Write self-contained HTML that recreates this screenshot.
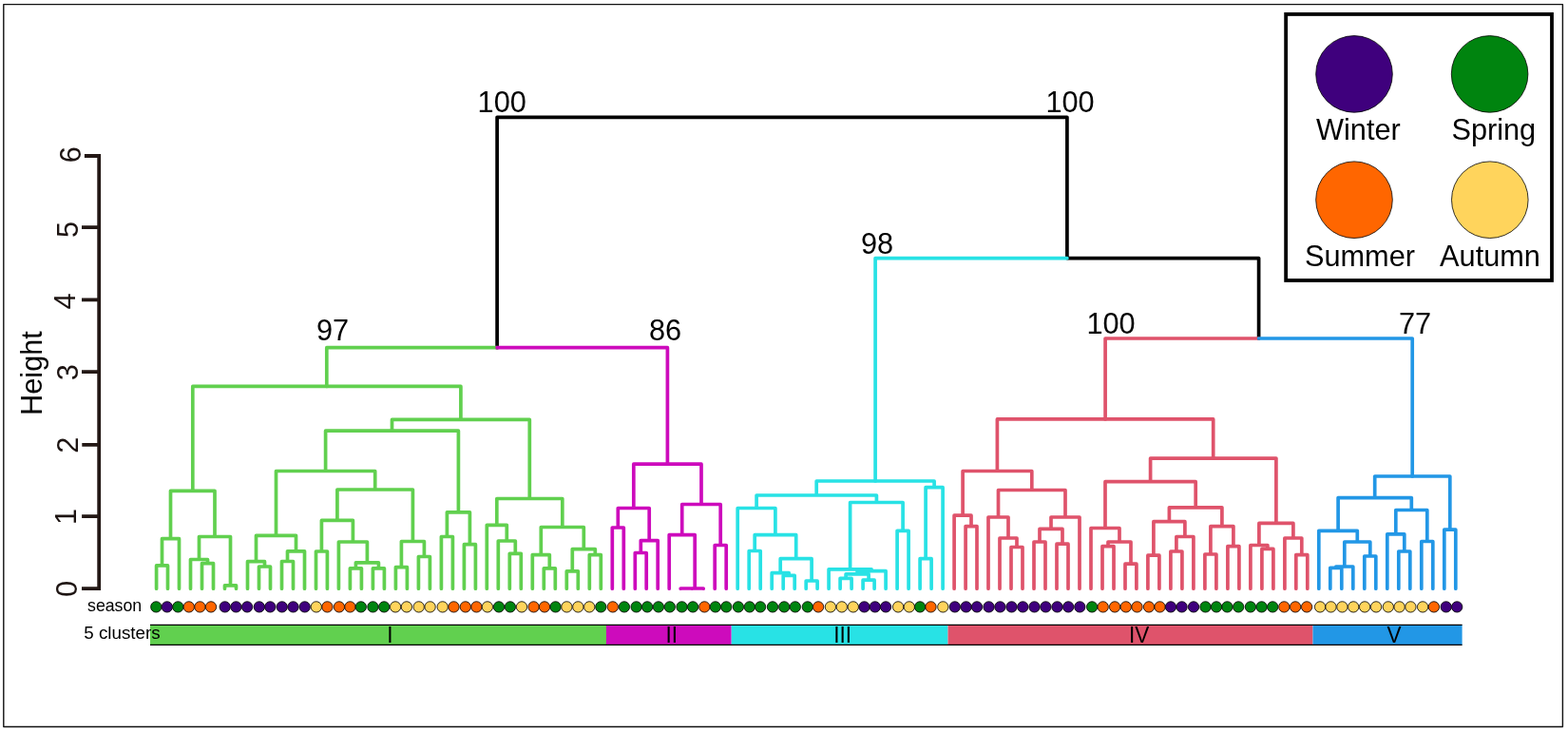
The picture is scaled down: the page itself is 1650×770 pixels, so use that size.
<!DOCTYPE html>
<html lang="en">
<head>
<meta charset="utf-8">
<title>Hierarchical clustering dendrogram</title>
<style>
html,body{margin:0;padding:0;background:#fff;}
body{width:1650px;height:770px;overflow:hidden;font-family:"Liberation Sans",Arial,Helvetica,sans-serif;}
svg{display:block;}
svg text{font-family:"Liberation Sans",Arial,Helvetica,sans-serif;fill:#000;}
.tree path{fill:none;stroke-width:3.7;stroke-linecap:round;stroke-linejoin:round;}
.season circle{stroke:#000;stroke-width:0.85;}
</style>
</head>
<body>
<svg width="1650" height="770" viewBox="0 0 1650 770">
<rect x="0" y="0" width="1650" height="770" fill="#fff"/>
<rect x="3.8" y="4.6" width="1640.6" height="759.9" fill="none" stroke="#111" stroke-width="1.4" stroke-linejoin="round"/>

<!-- axis -->
<g stroke="#231815" stroke-width="3.8" fill="none" stroke-linecap="butt" stroke-linejoin="miter">
<path d="M88.9 164H104.2V619.2H86"/>
<path d="M86 239.1H104.2M86 315.3H104.2M86 391.2H104.2M86.3 467.8H104.2M86.1 543.1H104.2"/>
</g>
<g font-size="32" text-anchor="middle" style="fill:#1d1412">
<text transform="translate(80.5 619.5) rotate(-90) scale(0.96 1)" style="fill:#1d1412">0</text>
<text transform="translate(80.3 543.5) rotate(-90) scale(0.96 1)" style="fill:#1d1412">1</text>
<text transform="translate(82.4 468.3) rotate(-90) scale(0.96 1)" style="fill:#1d1412">2</text>
<text transform="translate(82.4 391.6) rotate(-90) scale(0.96 1)" style="fill:#1d1412">3</text>
<text transform="translate(79.4 317) rotate(-90) scale(0.96 1)" style="fill:#1d1412">4</text>
<text transform="translate(82.4 241.4) rotate(-90) scale(0.96 1)" style="fill:#1d1412">5</text>
<text transform="translate(84.5 162.7) rotate(-90) scale(0.96 1)" style="fill:#1d1412">6</text>
<text transform="translate(44.3 392.5) rotate(-90) scale(0.96 1)">Height</text>
</g>

<!-- dendrogram -->
<g class="tree">
<path d="M523.1 365.7V123.3H1122.9V271.6H1324.6V356.0" stroke="#000" stroke-linecap="butt" stroke-linejoin="round"/>
<path d="M164.6 619.2V594.9H176.5V619.2M170.5 594.9V566.7H188.5V619.2M212.5 619.2V592.6H224.5V619.2M200.5 619.2V588.5H218.5V592.6M236.5 619.2V615.8H248.5V619.2M209.5 588.5V564.5H242.5V615.8M179.5 566.7V516.3H226.0V564.5M272.5 619.2V596.0H284.5V619.2M260.5 619.2V590.7H278.5V596.0M296.5 619.2V590.5H308.5V619.2M302.5 590.5V579.8H320.5V619.2M269.5 590.7V563.4H311.5V579.8M332.5 619.2V580.0H344.4V619.2M368.4 619.2V597.8H380.4V619.2M392.4 619.2V597.8H404.4V619.2M374.4 597.8V591.8H398.4V597.8M356.4 619.2V570.0H386.4V591.8M338.4 580.0V547.4H371.4V570.0M416.4 619.2V596.7H428.4V619.2M440.4 619.2V585.5H452.4V619.2M422.4 596.7V569.5H446.4V585.5M354.9 547.4V515.0H434.4V569.5M290.5 563.4V495.5H394.7V515.0M464.4 619.2V564.5H476.4V619.2M488.4 619.2V572.7H500.4V619.2M470.4 564.5V538.8H494.4V572.7M342.6 495.5V453.2H482.4V538.8M536.3 619.2V582.3H548.3V619.2M524.3 619.2V569.0H542.3V582.3M512.3 619.2V552.3H533.3V569.0M572.3 619.2V597.8H584.3V619.2M560.3 619.2V583.6H578.3V597.8M596.3 619.2V600.8H608.3V619.2M620.3 619.2V583.6H632.3V619.2M602.3 600.8V577.6H626.3V583.6M569.3 583.6V554.5H614.3V577.6M522.8 552.3V524.5H591.8V554.5M412.5 453.2V441.4H557.3V524.5M202.8 516.3V406.4H484.9V441.4" stroke="#61D04F"/>
<path d="M644.3 619.2V555.0H656.3V619.2M668.3 619.2V581.5H680.2V619.2M674.3 581.5V568.6H692.2V619.2M650.3 555.0V534.5H683.2V568.6M716.2 619.2V619.0H728.2V619.2M722.2 619.0V619.0H740.2V619.2M704.2 619.2V562.6H731.2V619.0M752.2 619.2V573.5H764.2V619.2M717.7 562.6V530.5H758.2V573.5M666.8 534.5V488.2H738.0V530.5" stroke="#CD0BBC"/>
<path d="M788.2 619.2V579.5H800.2V619.2M824.2 619.2V605.4H836.2V619.2M812.2 619.2V602.7H830.2V605.4M848.2 619.2V611.0H860.1V619.2M821.2 602.7V587.7H854.1V611.0M794.2 579.5V562.6H837.7V587.7M776.2 619.2V534.5H815.9V562.6M884.1 619.2V608.4H896.1V619.2M908.1 619.2V610.2H920.1V619.2M890.1 608.4V603.9H914.1V610.2M902.1 603.9V600.6H932.1V619.2M872.1 619.2V598.8H917.1V600.6M944.1 619.2V558.3H956.1V619.2M894.6 598.8V528.5H950.1V558.3M796.1 534.5V521.0H922.4V528.5M968.1 619.2V587.7H980.1V619.2M974.1 587.7V512.7H992.1V619.2M859.2 521.0V506.0H983.1V512.7" stroke="#28E2E5"/>
<path d="M1016.1 619.2V553.6H1028.0V619.2M1004.1 619.2V542.2H1022.0V553.6M1064.0 619.2V575.5H1076.0V619.2M1052.0 619.2V566.0H1070.0V575.5M1040.0 619.2V544.0H1061.0V566.0M1088.0 619.2V570.0H1100.0V619.2M1112.0 619.2V572.2H1124.0V619.2M1094.0 570.0V556.4H1118.0V572.2M1106.0 556.4V544.0H1136.0V619.2M1050.5 544.0V515.5H1121.0V544.0M1013.1 542.2V495.5H1085.8V515.5M1160.0 619.2V574.6H1172.0V619.2M1184.0 619.2V593.2H1195.9V619.2M1166.0 574.6V570.0H1190.0V593.2M1148.0 619.2V555.5H1178.0V570.0M1207.9 619.2V584.2H1219.9V619.2M1231.9 619.2V580.0H1243.9V619.2M1237.9 580.0V564.5H1255.9V619.2M1213.9 584.2V548.7H1246.9V564.5M1267.9 619.2V583.0H1279.9V619.2M1291.9 619.2V574.6H1303.9V619.2M1273.9 583.0V553.6H1297.9V574.6M1230.4 548.7V533.8H1285.9V553.6M1163.0 555.5V506.7H1258.2V533.8M1327.9 619.2V577.4H1339.9V619.2M1315.9 619.2V573.5H1333.9V577.4M1363.8 619.2V583.6H1375.8V619.2M1351.9 619.2V566.0H1369.8V583.6M1324.9 573.5V550.4H1360.9V566.0M1210.6 506.7V482.1H1342.9V550.4M1049.4 495.5V440.9H1276.7V482.1" stroke="#DF536B"/>
<path d="M1399.8 619.2V597.3H1411.8V619.2M1405.8 597.3V596.0H1423.8V619.2M1435.8 619.2V585.0H1447.8V619.2M1414.8 596.0V570.0H1441.8V585.0M1387.8 619.2V558.3H1428.3V570.0M1471.8 619.2V580.0H1483.8V619.2M1459.8 619.2V561.8H1477.8V580.0M1495.8 619.2V569.5H1507.8V619.2M1468.8 561.8V536.5H1501.8V569.5M1408.1 558.3V523.6H1485.3V536.5M1519.8 619.2V557.2H1531.8V619.2M1446.7 523.6V501.0H1525.8V557.2" stroke="#2297E6"/>
<path d="M343.8 406.4V365.7H523.1" stroke="#61D04F" stroke-linecap="butt"/>
<path d="M702.4 488.2V365.7H523.1" stroke="#CD0BBC" stroke-linecap="butt"/>
<path d="M1163.1 440.9V356.0H1324.6" stroke="#DF536B" stroke-linecap="butt"/>
<path d="M1486.2 501.0V356.0H1324.6" stroke="#2297E6" stroke-linecap="butt"/>
<path d="M921.1 506.0V271.6H1122.9" stroke="#28E2E5" stroke-linecap="butt"/>
</g>

<!-- bootstrap labels -->
<g font-size="32" text-anchor="middle">
<text transform="translate(528.2 118) scale(0.96 1)">100</text>
<text transform="translate(1126 118) scale(0.96 1)">100</text>
<text transform="translate(923 266.5) scale(0.96 1)">98</text>
<text transform="translate(350 358) scale(0.96 1)">97</text>
<text transform="translate(700 358) scale(0.96 1)">86</text>
<text transform="translate(1169 351.2) scale(0.96 1)">100</text>
<text transform="translate(1489 350.8) scale(0.96 1)">77</text>
</g>

<!-- cluster bar -->
<g>
<rect x="158" y="657.3" width="480" height="21.1" fill="#61D04F"/>
<rect x="637.9" y="657.3" width="131.8" height="21.1" fill="#CD0BBC"/>
<rect x="769.7" y="657.3" width="227.8" height="21.1" fill="#28E2E5"/>
<rect x="997.5" y="657.3" width="384" height="21.1" fill="#DF536B"/>
<rect x="1381.5" y="657.3" width="157.1" height="21.1" fill="#2297E6"/>
<path d="M158 657.3H1538.6M158 678.4H1538.6" stroke="#000" stroke-width="1.15" fill="none"/>
</g>
<g font-size="23.5" text-anchor="middle">
<text transform="translate(410.4 676.2) scale(0.96 1)">I</text>
<text transform="translate(706.7 676.2) scale(0.96 1)">II</text>
<text transform="translate(886.7 676.2) scale(0.96 1)">III</text>
<text transform="translate(1198.7 676.2) scale(0.96 1)">IV</text>
<text transform="translate(1466.9 676.2) scale(0.96 1)">V</text>
</g>
<g>
<text x="92" y="643.2" font-size="17.75">season</text>
<text x="88.3" y="672.2" font-size="18.8">5 clusters</text>
</g>

<!-- season dots -->
<g class="season">
<circle cx="164.3" cy="638.4" r="5.65" fill="#00840F"/>
<circle cx="175.8" cy="638.4" r="5.65" fill="#3F007D"/>
<circle cx="187.3" cy="638.4" r="5.65" fill="#00840F"/>
<circle cx="198.8" cy="638.4" r="5.65" fill="#FF6600"/>
<circle cx="210.4" cy="638.4" r="5.65" fill="#FF6600"/>
<circle cx="222.0" cy="638.4" r="5.65" fill="#FF6600"/>
<circle cx="236.7" cy="638.4" r="5.65" fill="#3F007D"/>
<circle cx="248.4" cy="638.4" r="5.65" fill="#3F007D"/>
<circle cx="260.1" cy="638.4" r="5.65" fill="#3F007D"/>
<circle cx="272.8" cy="638.4" r="5.65" fill="#3F007D"/>
<circle cx="284.3" cy="638.4" r="5.65" fill="#3F007D"/>
<circle cx="296.7" cy="638.4" r="5.65" fill="#3F007D"/>
<circle cx="308.5" cy="638.4" r="5.65" fill="#3F007D"/>
<circle cx="320.7" cy="638.4" r="5.65" fill="#3F007D"/>
<circle cx="332.8" cy="638.4" r="5.65" fill="#FFD45C"/>
<circle cx="344.4" cy="638.4" r="5.65" fill="#FF6600"/>
<circle cx="356.9" cy="638.4" r="5.65" fill="#FF6600"/>
<circle cx="368.4" cy="638.4" r="5.65" fill="#FF6600"/>
<circle cx="379.8" cy="638.4" r="5.65" fill="#00840F"/>
<circle cx="392.4" cy="638.4" r="5.65" fill="#00840F"/>
<circle cx="404.2" cy="638.4" r="5.65" fill="#00840F"/>
<circle cx="416.1" cy="638.4" r="5.65" fill="#FFD45C"/>
<circle cx="427.9" cy="638.4" r="5.65" fill="#FFD45C"/>
<circle cx="440.7" cy="638.4" r="5.65" fill="#FFD45C"/>
<circle cx="452.6" cy="638.4" r="5.65" fill="#FFD45C"/>
<circle cx="465.7" cy="638.4" r="5.65" fill="#FFD45C"/>
<circle cx="477.5" cy="638.4" r="5.65" fill="#FF6600"/>
<circle cx="489.8" cy="638.4" r="5.65" fill="#FF6600"/>
<circle cx="501.4" cy="638.4" r="5.65" fill="#FF6600"/>
<circle cx="512.9" cy="638.4" r="5.65" fill="#FFD45C"/>
<circle cx="525.0" cy="638.4" r="5.65" fill="#00840F"/>
<circle cx="536.9" cy="638.4" r="5.65" fill="#00840F"/>
<circle cx="549.0" cy="638.4" r="5.65" fill="#FFD45C"/>
<circle cx="561.6" cy="638.4" r="5.65" fill="#FF6600"/>
<circle cx="573.0" cy="638.4" r="5.65" fill="#FF6600"/>
<circle cx="584.6" cy="638.4" r="5.65" fill="#00840F"/>
<circle cx="596.4" cy="638.4" r="5.65" fill="#FFD45C"/>
<circle cx="608.3" cy="638.4" r="5.65" fill="#FFD45C"/>
<circle cx="620.2" cy="638.4" r="5.65" fill="#FFD45C"/>
<circle cx="632.3" cy="638.4" r="5.65" fill="#00840F"/>
<circle cx="644.8" cy="638.4" r="5.65" fill="#FF6600"/>
<circle cx="656.9" cy="638.4" r="5.65" fill="#00840F"/>
<circle cx="669.6" cy="638.4" r="5.65" fill="#00840F"/>
<circle cx="681.1" cy="638.4" r="5.65" fill="#00840F"/>
<circle cx="692.9" cy="638.4" r="5.65" fill="#00840F"/>
<circle cx="704.8" cy="638.4" r="5.65" fill="#00840F"/>
<circle cx="717.5" cy="638.4" r="5.65" fill="#00840F"/>
<circle cx="729.1" cy="638.4" r="5.65" fill="#00840F"/>
<circle cx="741.3" cy="638.4" r="5.65" fill="#FF6600"/>
<circle cx="752.8" cy="638.4" r="5.65" fill="#00840F"/>
<circle cx="764.3" cy="638.4" r="5.65" fill="#00840F"/>
<circle cx="776.9" cy="638.4" r="5.65" fill="#00840F"/>
<circle cx="788.8" cy="638.4" r="5.65" fill="#00840F"/>
<circle cx="800.1" cy="638.4" r="5.65" fill="#00840F"/>
<circle cx="813.0" cy="638.4" r="5.65" fill="#00840F"/>
<circle cx="825.2" cy="638.4" r="5.65" fill="#00840F"/>
<circle cx="836.8" cy="638.4" r="5.65" fill="#00840F"/>
<circle cx="849.8" cy="638.4" r="5.65" fill="#00840F"/>
<circle cx="861.1" cy="638.4" r="5.65" fill="#FF6600"/>
<circle cx="873.9" cy="638.4" r="5.65" fill="#FFD45C"/>
<circle cx="885.8" cy="638.4" r="5.65" fill="#FFD45C"/>
<circle cx="897.8" cy="638.4" r="5.65" fill="#FFD45C"/>
<circle cx="909.5" cy="638.4" r="5.65" fill="#3F007D"/>
<circle cx="920.8" cy="638.4" r="5.65" fill="#3F007D"/>
<circle cx="932.1" cy="638.4" r="5.65" fill="#3F007D"/>
<circle cx="945.1" cy="638.4" r="5.65" fill="#FFD45C"/>
<circle cx="956.8" cy="638.4" r="5.65" fill="#FFD45C"/>
<circle cx="968.1" cy="638.4" r="5.65" fill="#00840F"/>
<circle cx="979.5" cy="638.4" r="5.65" fill="#FF6600"/>
<circle cx="992.3" cy="638.4" r="5.65" fill="#FFD45C"/>
<circle cx="1004.8" cy="638.4" r="5.65" fill="#3F007D"/>
<circle cx="1016.6" cy="638.4" r="5.65" fill="#3F007D"/>
<circle cx="1028.0" cy="638.4" r="5.65" fill="#3F007D"/>
<circle cx="1040.5" cy="638.4" r="5.65" fill="#3F007D"/>
<circle cx="1052.4" cy="638.4" r="5.65" fill="#3F007D"/>
<circle cx="1064.5" cy="638.4" r="5.65" fill="#3F007D"/>
<circle cx="1076.3" cy="638.4" r="5.65" fill="#3F007D"/>
<circle cx="1088.5" cy="638.4" r="5.65" fill="#3F007D"/>
<circle cx="1100.4" cy="638.4" r="5.65" fill="#3F007D"/>
<circle cx="1112.5" cy="638.4" r="5.65" fill="#3F007D"/>
<circle cx="1124.2" cy="638.4" r="5.65" fill="#3F007D"/>
<circle cx="1136.3" cy="638.4" r="5.65" fill="#3F007D"/>
<circle cx="1149.1" cy="638.4" r="5.65" fill="#00840F"/>
<circle cx="1160.7" cy="638.4" r="5.65" fill="#FF6600"/>
<circle cx="1173.1" cy="638.4" r="5.65" fill="#FF6600"/>
<circle cx="1184.8" cy="638.4" r="5.65" fill="#FF6600"/>
<circle cx="1196.5" cy="638.4" r="5.65" fill="#FF6600"/>
<circle cx="1209.0" cy="638.4" r="5.65" fill="#FF6600"/>
<circle cx="1220.5" cy="638.4" r="5.65" fill="#FF6600"/>
<circle cx="1232.0" cy="638.4" r="5.65" fill="#3F007D"/>
<circle cx="1243.6" cy="638.4" r="5.65" fill="#3F007D"/>
<circle cx="1256.0" cy="638.4" r="5.65" fill="#3F007D"/>
<circle cx="1268.5" cy="638.4" r="5.65" fill="#00840F"/>
<circle cx="1280.0" cy="638.4" r="5.65" fill="#00840F"/>
<circle cx="1291.4" cy="638.4" r="5.65" fill="#00840F"/>
<circle cx="1303.2" cy="638.4" r="5.65" fill="#00840F"/>
<circle cx="1315.9" cy="638.4" r="5.65" fill="#00840F"/>
<circle cx="1327.6" cy="638.4" r="5.65" fill="#00840F"/>
<circle cx="1339.2" cy="638.4" r="5.65" fill="#00840F"/>
<circle cx="1351.3" cy="638.4" r="5.65" fill="#FF6600"/>
<circle cx="1363.1" cy="638.4" r="5.65" fill="#FF6600"/>
<circle cx="1375.1" cy="638.4" r="5.65" fill="#FF6600"/>
<circle cx="1389.1" cy="638.4" r="5.65" fill="#FFD45C"/>
<circle cx="1400.5" cy="638.4" r="5.65" fill="#FFD45C"/>
<circle cx="1412.4" cy="638.4" r="5.65" fill="#FFD45C"/>
<circle cx="1424.2" cy="638.4" r="5.65" fill="#FFD45C"/>
<circle cx="1436.1" cy="638.4" r="5.65" fill="#FFD45C"/>
<circle cx="1448.1" cy="638.4" r="5.65" fill="#FFD45C"/>
<circle cx="1460.8" cy="638.4" r="5.65" fill="#FFD45C"/>
<circle cx="1472.6" cy="638.4" r="5.65" fill="#FFD45C"/>
<circle cx="1484.4" cy="638.4" r="5.65" fill="#FFD45C"/>
<circle cx="1497.1" cy="638.4" r="5.65" fill="#FFD45C"/>
<circle cx="1508.9" cy="638.4" r="5.65" fill="#FF6600"/>
<circle cx="1521.7" cy="638.4" r="5.65" fill="#3F007D"/>
<circle cx="1533.2" cy="638.4" r="5.65" fill="#3F007D"/>
</g>

<!-- legend -->
<rect x="1353.15" y="14.95" width="279.85" height="280" fill="#fff" stroke="#000" stroke-width="3.8"/>
<g stroke="#000" stroke-width="0.8">
<circle cx="1425" cy="77.9" r="40.3" fill="#3F007D"/>
<circle cx="1567.6" cy="77.9" r="40.3" fill="#00840F"/>
<circle cx="1425" cy="210.2" r="40.3" fill="#FF6600"/>
<circle cx="1567.8" cy="210.2" r="40.3" fill="#FFD45C"/>
</g>
<g font-size="32" text-anchor="middle">
<text transform="translate(1429.4 147.3) scale(0.96 1)">Winter</text>
<text transform="translate(1571.8 147.3) scale(0.96 1)">Spring</text>
<text transform="translate(1431 279.9) scale(0.96 1)">Summer</text>
<text transform="translate(1568 279.9) scale(0.96 1)">Autumn</text>
</g>
</svg>
</body>
</html>
